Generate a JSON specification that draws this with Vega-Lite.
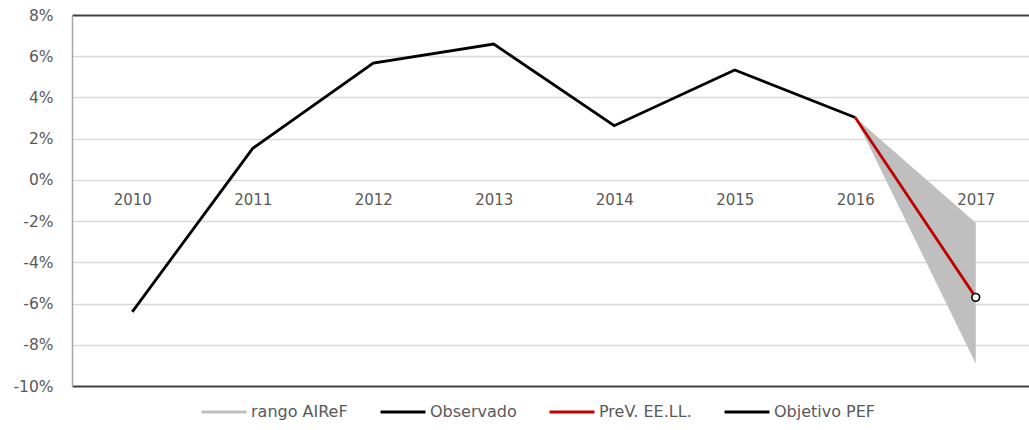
{
  "$schema": "https://vega.github.io/schema/vega-lite/v6.json",
  "width": 957,
  "height": 371,
  "autosize": {"type": "none"},
  "padding": {"left": 72, "top": 15, "right": 0, "bottom": 44},
  "background": "#ffffff",
  "config": {
    "view": {"stroke": null},
    "font": "DejaVu Sans"
  },
  "datasets": {
    "obs": [
      {"year": 2010, "v": -6.40, "serie": "Observado"},
      {"year": 2011, "v": 1.53, "serie": "Observado"},
      {"year": 2012, "v": 5.67, "serie": "Observado"},
      {"year": 2013, "v": 6.59, "serie": "Observado"},
      {"year": 2014, "v": 2.63, "serie": "Observado"},
      {"year": 2015, "v": 5.33, "serie": "Observado"},
      {"year": 2016, "v": 3.03, "serie": "Observado"}
    ],
    "prev": [
      {"year": 2016, "v": 3.03, "serie": "PreV. EE.LL."},
      {"year": 2017, "v": -5.70, "serie": "PreV. EE.LL."}
    ],
    "band": [
      {"year": 2016, "lo": 3.03, "hi": 3.03, "serie": "rango AIReF"},
      {"year": 2017, "lo": -8.91, "hi": -2.08, "serie": "rango AIReF"}
    ],
    "pef": [
      {"year": 2017, "v": -5.70, "serie": "Objetivo PEF"}
    ]
  },
  "encoding": {
    "x": {
      "field": "year",
      "type": "quantitative",
      "scale": {"domain": [2009.5, 2017.442], "nice": false, "zero": false},
      "axis": {
        "title": null,
        "values": [2010, 2011, 2012, 2013, 2014, 2015, 2016, 2017],
        "format": "d",
        "grid": false,
        "domain": false,
        "ticks": false,
        "offset": -206,
        "labelPadding": 12,
        "labelFont": "DejaVu Sans",
        "labelFontSize": 15,
        "labelColor": "#595959"
      }
    }
  },
  "layer": [
    {
      "data": {"name": "band"},
      "mark": {"type": "area", "opacity": 1},
      "encoding": {
        "y": {
          "field": "lo",
          "type": "quantitative",
          "scale": {"domain": [-10, 8], "nice": false},
          "axis": {
            "title": null,
            "values": [-10, -8, -6, -4, -2, 0, 2, 4, 6, 8],
            "labelExpr": "datum.value + '%'",
            "labelFont": "DejaVu Sans",
            "labelFontSize": 15.5,
            "labelColor": "#595959",
            "labelPadding": 19,
            "ticks": false,
            "domainColor": "#a6a6a6",
            "domainWidth": 1.5,
            "gridColor": {
              "condition": {"test": "datum.value == 8 || datum.value == -10", "value": "#404040"},
              "value": "#d9d9d9"
            },
            "gridWidth": {
              "condition": {"test": "datum.value == 8 || datum.value == -10", "value": 2},
              "value": 1.3
            }
          }
        },
        "y2": {"field": "hi"},
        "color": {
          "field": "serie",
          "type": "nominal",
          "scale": {
            "domain": ["rango AIReF", "Observado", "PreV. EE.LL.", "Objetivo PEF"],
            "range": ["#bfbfbf", "#000000", "#c00000", "#000000"]
          },
          "legend": {
            "orient": "none",
            "legendX": 128,
            "legendY": 373,
            "direction": "horizontal",
            "title": null,
            "labelFont": "DejaVu Sans",
            "labelFontSize": 16,
            "labelColor": "#595959",
            "labelOffset": 3,
            "columnPadding": 26,
            "symbolSize": 2025,
            "symbolType": "stroke",
            "symbolStrokeWidth": 3
          }
        }
      }
    },
    {
      "data": {"name": "obs"},
      "mark": {"type": "line", "strokeWidth": 2.8},
      "encoding": {
        "y": {"field": "v", "type": "quantitative"},
        "color": {"field": "serie", "type": "nominal"}
      }
    },
    {
      "data": {"name": "prev"},
      "mark": {"type": "line", "strokeWidth": 2.8},
      "encoding": {
        "y": {"field": "v", "type": "quantitative"},
        "color": {"field": "serie", "type": "nominal"}
      }
    },
    {
      "data": {"name": "pef"},
      "mark": {"type": "point", "filled": true, "fill": "#ffffff", "stroke": "#000000", "strokeWidth": 1.6, "size": 60, "opacity": 1},
      "encoding": {
        "y": {"field": "v", "type": "quantitative"}
      }
    }
  ]
}
